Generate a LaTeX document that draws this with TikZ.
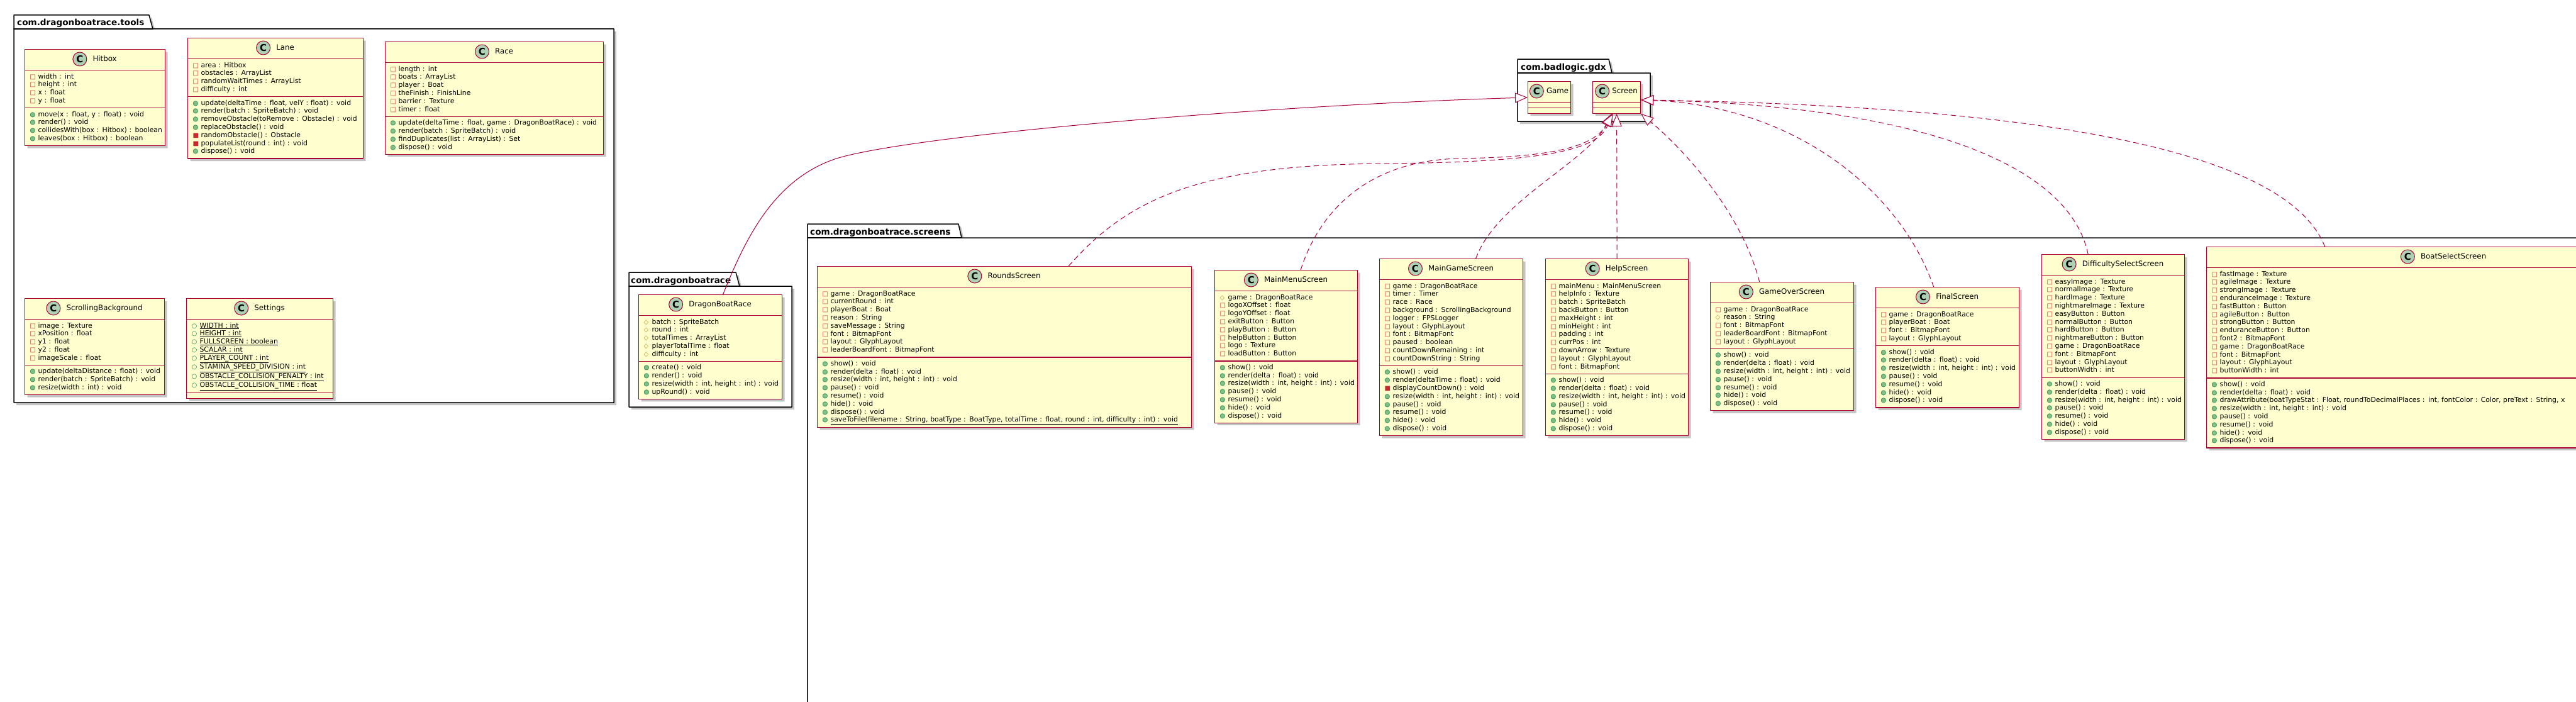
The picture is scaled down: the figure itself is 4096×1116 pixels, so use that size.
\documentclass[tikz,border=0pt]{standalone}
\usepackage{fontspec}
\setmainfont{DejaVu Sans}
\usetikzlibrary{arrows.meta}
\usetikzlibrary{positioning}
\usetikzlibrary{shadows}
\usetikzlibrary{shapes.multipart}
\usetikzlibrary{calc}

\definecolor{umlred}{HTML}{A80036}
\definecolor{umlfill}{HTML}{FEFECE}
\definecolor{iconbg}{HTML}{ADD1B2}
\definecolor{privred}{HTML}{C82930}
\definecolor{protgold}{HTML}{B38D22}
\definecolor{pubgreen}{HTML}{038048}
\definecolor{pubfill}{HTML}{84BE84}

\newcommand{\attrfont}{\fontsize{10.85}{12.8}\selectfont}
\newcommand{\namefont}{\fontsize{11.8}{14}\selectfont}
\newcommand{\pkgfont}{\bfseries\fontsize{13.6}{16}\selectfont}
\newcommand{\headspace}{\rule{0pt}{24.5pt}}

% visibility marks
\newcommand{\vis}[1]{\makebox[13pt][l]{\fontsize{10}{10}\selectfont #1}}
\newcommand{\fpriv}{\vis{\textcolor{privred}{□}}}
\newcommand{\mpriv}{\vis{\textcolor{privred}{■}}}
\newcommand{\fprot}{\vis{\textcolor{protgold}{◇}}}
\newcommand{\fpub}{\vis{\textcolor{pubgreen}{○}}}
\newcommand{\mpub}{\vis{\rlap{\textcolor{pubfill}{●}}\textcolor{pubgreen}{○}}}
\newcommand{\row}[2]{\mbox{\strut#1#2}}

\tikzset{
  umlclass/.style={rectangle split, rectangle split parts=3,
    rectangle split ignore empty parts=false,
    draw=umlred, line width=1.2pt, fill=umlfill,
    drop shadow={shadow xshift=4pt, shadow yshift=-4pt, fill=black!45},
    anchor=north west, inner xsep=8pt, inner ysep=3.75pt,
    align=left, font=\attrfont},
  clsname/.style={inner sep=0pt, font=\namefont, text height=8.6pt, text depth=2.5pt},
  clsicon/.style={circle, draw=umlred, line width=1pt, fill=iconbg,
    minimum size=22pt, inner sep=0pt, font=\bfseries\fontsize{15}{15}\selectfont},
  pkg/.style={draw=black, line width=1.5pt, fill=white,
    drop shadow={shadow xshift=4pt, shadow yshift=-4pt, fill=black!45}},
  pkgedge/.style={draw=black, line width=1.5pt},
  pkglabel/.style={inner sep=0pt, font=\pkgfont, anchor=base west},
  extends/.style={draw=umlred, line width=1pt,
    -{Triangle[length=20pt, width=16pt, fill=white]}},
  implements/.style={extends, dash pattern=on 8pt off 6pt}
}

\begin{document}
\begin{tikzpicture}[line cap=round,line join=round,x=1pt,y=-1pt]
\useasboundingbox (0,0) rectangle (4096,1116);
\clip (0,0) rectangle (4096,1116);
\fill[white] (0,0) rectangle (4096,1116);

% packages
\filldraw[pkg] (22,24) -- (237,24) -- (243,46) -- (976,46) -- (976,640) -- (22,640) -- cycle;
\draw[pkgedge] (22,46) -- (243,46);
\node[pkglabel] (toolsLabel) at (27,41) {com.dragonboatrace.tools};

\filldraw[pkg] (2413,94) -- (2558,94) -- (2563,116) -- (2624,116) -- (2624,193) -- (2413,193) -- cycle;
\draw[pkgedge] (2413,116) -- (2563,116);
\node[pkglabel] (gdxLabel) at (2418,111) {com.badlogic.gdx};

\filldraw[pkg] (1000,433) -- (1170,433) -- (1176,455) -- (1259,455) -- (1259,647) -- (1000,647) -- cycle;
\draw[pkgedge] (1000,455) -- (1176,455);
\node[pkglabel] (coreLabel) at (1003,450) {com.dragonboatrace};

\filldraw[pkg] (1284,356) -- (1524,356) -- (1529,378) -- (4200,378) -- (4200,1200) -- (1284,1200) -- cycle;
\draw[pkgedge] (1284,378) -- (1529,378);
\node[pkglabel] (screensLabel) at (1288,373) {com.dragonboatrace.screens};

% com.dragonboatrace.tools
\node[umlclass, text width=207pt] (hit) at (39,78) {\headspace
  \nodepart{two}
  \row\fpriv{width : int}\\
  \row\fpriv{height : int}\\
  \row\fpriv{x : float}\\
  \row\fpriv{y : float}
  \nodepart{three}
  \row\mpub{move(x : float, y : float) : void}\\
  \row\mpub{render() : void}\\
  \row\mpub{collidesWith(box : Hitbox) : boolean}\\
  \row\mpub{leaves(box : Hitbox) : boolean}};
\node[clsname] (hitName) at ($(hit.north)+(15.5,16)$) {Hitbox};
\node[clsicon, left=9pt of hitName] (hitIcon) {C};

\node[umlclass, text width=263pt] (lane) at (298,60) {\headspace
  \nodepart{two}
  \row\fpriv{area : Hitbox}\\
  \row\fpriv{obstacles : ArrayList}\\
  \row\fpriv{randomWaitTimes : ArrayList}\\
  \row\fpriv{difficulty : int}
  \nodepart{three}
  \row\mpub{update(deltaTime : float, velY : float) : void}\\
  \row\mpub{render(batch : SpriteBatch) : void}\\
  \row\mpub{removeObstacle(toRemove : Obstacle) : void}\\
  \row\mpub{replaceObstacle() : void}\\
  \row\mpriv{randomObstacle() : Obstacle}\\
  \row\mpriv{populateList(round : int) : void}\\
  \row\mpub{dispose() : void}};
\node[clsname] (laneName) at ($(lane.north)+(15.5,16)$) {Lane};
\node[clsicon, left=9pt of laneName] (laneIcon) {C};

\node[umlclass, text width=331pt] (race) at (612,66) {\headspace
  \nodepart{two}
  \row\fpriv{length : int}\\
  \row\fpriv{boats : ArrayList}\\
  \row\fpriv{player : Boat}\\
  \row\fpriv{theFinish : FinishLine}\\
  \row\fpriv{barrier : Texture}\\
  \row\fpriv{timer : float}
  \nodepart{three}
  \row\mpub{update(deltaTime : float, game : DragonBoatRace) : void}\\
  \row\mpub{render(batch : SpriteBatch) : void}\\
  \row\mpub{findDuplicates(list : ArrayList) : Set}\\
  \row\mpub{dispose() : void}};
\node[clsname] (raceName) at ($(race.north)+(15.5,16)$) {Race};
\node[clsicon, left=9pt of raceName] (raceIcon) {C};

\node[umlclass, text width=206pt] (scroll) at (39,474) {\headspace
  \nodepart{two}
  \row\fpriv{image : Texture}\\
  \row\fpriv{xPosition : float}\\
  \row\fpriv{y1 : float}\\
  \row\fpriv{y2 : float}\\
  \row\fpriv{imageScale : float}
  \nodepart{three}
  \row\mpub{update(deltaDistance : float) : void}\\
  \row\mpub{render(batch : SpriteBatch) : void}\\
  \row\mpub{resize(width : int) : void}};
\node[clsname] (scrollName) at ($(scroll.north)+(15.5,16)$) {ScrollingBackground};
\node[clsicon, left=9pt of scrollName] (scrollIcon) {C};

\node[umlclass, text width=217pt] (settings) at (296,474) {\headspace
  \nodepart{two}
  \row\fpub{\underline{WIDTH : int}}\\
  \row\fpub{\underline{HEIGHT : int}}\\
  \row\fpub{\underline{FULLSCREEN : boolean}}\\
  \row\fpub{\underline{SCALAR : int}}\\
  \row\fpub{\underline{PLAYER\_COUNT : int}}\\
  \row\fpub{\underline{STAMINA\_SPEED\_DIVISION : int}}\\
  \row\fpub{\underline{OBSTACLE\_COLLISION\_PENALTY : int}}\\
  \row\fpub{\underline{OBSTACLE\_COLLISION\_TIME : float}}
  \nodepart{three}};
\node[clsname] (settingsName) at ($(settings.north)+(15.5,16)$) {Settings};
\node[clsicon, left=9pt of settingsName] (settingsIcon) {C};

% com.dragonboatrace
\node[umlclass, text width=212pt] (dbr) at (1015,468) {\headspace
  \nodepart{two}
  \row\fprot{batch : SpriteBatch}\\
  \row\fprot{round : int}\\
  \row\fprot{totalTimes : ArrayList}\\
  \row\fprot{playerTotalTime : float}\\
  \row\fprot{difficulty : int}
  \nodepart{three}
  \row\mpub{create() : void}\\
  \row\mpub{render() : void}\\
  \row\mpub{resize(width : int, height : int) : void}\\
  \row\mpub{upRound() : void}};
\node[clsname] (dbrName) at ($(dbr.north)+(15.5,16)$) {DragonBoatRace};
\node[clsicon, left=9pt of dbrName] (dbrIcon) {C};

% com.badlogic.gdx
\node[umlclass, text width=52pt] (game) at (2429,129) {\headspace
  \nodepart{two}\nodepart{three}};
\node[clsname] (gameName) at ($(game.north)+(13,16)$) {Game};
\node[clsicon, left=4pt of gameName] (gameIcon) {C};

\node[umlclass, text width=60pt] (screen) at (2532,129) {\headspace
  \nodepart{two}\nodepart{three}};
\node[clsname] (screenName) at ($(screen.north)+(13,16)$) {Screen};
\node[clsicon, left=4pt of screenName] (screenIcon) {C};

% com.dragonboatrace.screens
\node[umlclass, text width=579pt] (rounds) at (1299,423) {\headspace
  \nodepart{two}
  \row\fpriv{game : DragonBoatRace}\\
  \row\fpriv{currentRound : int}\\
  \row\fpriv{playerBoat : Boat}\\
  \row\fpriv{reason : String}\\
  \row\fpriv{saveMessage : String}\\
  \row\fpriv{font : BitmapFont}\\
  \row\fpriv{layout : GlyphLayout}\\
  \row\fpriv{leaderBoardFont : BitmapFont}
  \nodepart{three}
  \row\mpub{show() : void}\\
  \row\mpub{render(delta : float) : void}\\
  \row\mpub{resize(width : int, height : int) : void}\\
  \row\mpub{pause() : void}\\
  \row\mpub{resume() : void}\\
  \row\mpub{hide() : void}\\
  \row\mpub{dispose() : void}\\
  \row\mpub{\underline{saveToFile(filename : String, boatType : BoatType, totalTime : float, round : int, difficulty : int) : void}}};
\node[clsname] (roundsName) at ($(rounds.north)+(15.5,16)$) {RoundsScreen};
\node[clsicon, left=9pt of roundsName] (roundsIcon) {C};

\node[umlclass, text width=211pt] (mainmenu) at (1931,429) {\headspace
  \nodepart{two}
  \row\fprot{game : DragonBoatRace}\\
  \row\fpriv{logoXOffset : float}\\
  \row\fpriv{logoYOffset : float}\\
  \row\fpriv{exitButton : Button}\\
  \row\fpriv{playButton : Button}\\
  \row\fpriv{helpButton : Button}\\
  \row\fpriv{logo : Texture}\\
  \row\fpriv{loadButton : Button}
  \nodepart{three}
  \row\mpub{show() : void}\\
  \row\mpub{render(delta : float) : void}\\
  \row\mpub{resize(width : int, height : int) : void}\\
  \row\mpub{pause() : void}\\
  \row\mpub{resume() : void}\\
  \row\mpub{hide() : void}\\
  \row\mpub{dispose() : void}};
\node[clsname] (mainmenuName) at ($(mainmenu.north)+(15.5,16)$) {MainMenuScreen};
\node[clsicon, left=9pt of mainmenuName] (mainmenuIcon) {C};

\node[umlclass, text width=212pt] (maingame) at (2193,411) {\headspace
  \nodepart{two}
  \row\fpriv{game : DragonBoatRace}\\
  \row\fpriv{timer : Timer}\\
  \row\fpriv{race : Race}\\
  \row\fpriv{background : ScrollingBackground}\\
  \row\fpriv{logger : FPSLogger}\\
  \row\fpriv{layout : GlyphLayout}\\
  \row\fpriv{font : BitmapFont}\\
  \row\fpriv{paused : boolean}\\
  \row\fpriv{countDownRemaining : int}\\
  \row\fpriv{countDownString : String}
  \nodepart{three}
  \row\mpub{show() : void}\\
  \row\mpub{render(deltaTime : float) : void}\\
  \row\mpriv{displayCountDown() : void}\\
  \row\mpub{resize(width : int, height : int) : void}\\
  \row\mpub{pause() : void}\\
  \row\mpub{resume() : void}\\
  \row\mpub{hide() : void}\\
  \row\mpub{dispose() : void}};
\node[clsname] (maingameName) at ($(maingame.north)+(15.5,16)$) {MainGameScreen};
\node[clsicon, left=9pt of maingameName] (maingameIcon) {C};

\node[umlclass, text width=211pt] (help) at (2457,411) {\headspace
  \nodepart{two}
  \row\fpriv{mainMenu : MainMenuScreen}\\
  \row\fpriv{helpInfo : Texture}\\
  \row\fpriv{batch : SpriteBatch}\\
  \row\fpriv{backButton : Button}\\
  \row\fpriv{maxHeight : int}\\
  \row\fpriv{minHeight : int}\\
  \row\fpriv{padding : int}\\
  \row\fpriv{currPos : int}\\
  \row\fpriv{downArrow : Texture}\\
  \row\fpriv{layout : GlyphLayout}\\
  \row\fpriv{font : BitmapFont}
  \nodepart{three}
  \row\mpub{show() : void}\\
  \row\mpub{render(delta : float) : void}\\
  \row\mpub{resize(width : int, height : int) : void}\\
  \row\mpub{pause() : void}\\
  \row\mpub{resume() : void}\\
  \row\mpub{hide() : void}\\
  \row\mpub{dispose() : void}};
\node[clsname] (helpName) at ($(help.north)+(15.5,16)$) {HelpScreen};
\node[clsicon, left=9pt of helpName] (helpIcon) {C};

\node[umlclass, text width=212pt] (gameover) at (2719,448) {\headspace
  \nodepart{two}
  \row\fpriv{game : DragonBoatRace}\\
  \row\fprot{reason : String}\\
  \row\fpriv{font : BitmapFont}\\
  \row\fpriv{leaderBoardFont : BitmapFont}\\
  \row\fpriv{layout : GlyphLayout}
  \nodepart{three}
  \row\mpub{show() : void}\\
  \row\mpub{render(delta : float) : void}\\
  \row\mpub{resize(width : int, height : int) : void}\\
  \row\mpub{pause() : void}\\
  \row\mpub{resume() : void}\\
  \row\mpub{hide() : void}\\
  \row\mpub{dispose() : void}};
\node[clsname] (gameoverName) at ($(gameover.north)+(15.5,16)$) {GameOverScreen};
\node[clsicon, left=9pt of gameoverName] (gameoverIcon) {C};

\node[umlclass, text width=212pt] (final) at (2982,456) {\headspace
  \nodepart{two}
  \row\fpriv{game : DragonBoatRace}\\
  \row\fpriv{playerBoat : Boat}\\
  \row\fpriv{font : BitmapFont}\\
  \row\fpriv{layout : GlyphLayout}
  \nodepart{three}
  \row\mpub{show() : void}\\
  \row\mpub{render(delta : float) : void}\\
  \row\mpub{resize(width : int, height : int) : void}\\
  \row\mpub{pause() : void}\\
  \row\mpub{resume() : void}\\
  \row\mpub{hide() : void}\\
  \row\mpub{dispose() : void}};
\node[clsname] (finalName) at ($(final.north)+(15.5,16)$) {FinalScreen};
\node[clsicon, left=9pt of finalName] (finalIcon) {C};

\node[umlclass, text width=211pt] (diffsel) at (3246,404) {\headspace
  \nodepart{two}
  \row\fpriv{easyImage : Texture}\\
  \row\fpriv{normalImage : Texture}\\
  \row\fpriv{hardImage : Texture}\\
  \row\fpriv{nightmareImage : Texture}\\
  \row\fpriv{easyButton : Button}\\
  \row\fpriv{normalButton : Button}\\
  \row\fpriv{hardButton : Button}\\
  \row\fpriv{nightmareButton : Button}\\
  \row\fpriv{game : DragonBoatRace}\\
  \row\fpriv{font : BitmapFont}\\
  \row\fpriv{layout : GlyphLayout}\\
  \row\fpriv{buttonWidth : int}
  \nodepart{three}
  \row\mpub{show() : void}\\
  \row\mpub{render(delta : float) : void}\\
  \row\mpub{resize(width : int, height : int) : void}\\
  \row\mpub{pause() : void}\\
  \row\mpub{resume() : void}\\
  \row\mpub{hide() : void}\\
  \row\mpub{dispose() : void}};
\node[clsname] (diffselName) at ($(diffsel.north)+(15.5,16)$) {DifficultySelectScreen};
\node[clsicon, left=9pt of diffselName] (diffselIcon) {C};

\node[umlclass, text width=738pt] (boatsel) at (3508,392) {\headspace
  \nodepart{two}
  \row\fpriv{fastImage : Texture}\\
  \row\fpriv{agileImage : Texture}\\
  \row\fpriv{strongImage : Texture}\\
  \row\fpriv{enduranceImage : Texture}\\
  \row\fpriv{fastButton : Button}\\
  \row\fpriv{agileButton : Button}\\
  \row\fpriv{strongButton : Button}\\
  \row\fpriv{enduranceButton : Button}\\
  \row\fpriv{font2 : BitmapFont}\\
  \row\fpriv{game : DragonBoatRace}\\
  \row\fpriv{font : BitmapFont}\\
  \row\fpriv{layout : GlyphLayout}\\
  \row\fpriv{buttonWidth : int}
  \nodepart{three}
  \row\mpub{show() : void}\\
  \row\mpub{render(delta : float) : void}\\
  \row\mpub{drawAttribute(boatTypeStat : Float, roundToDecimalPlaces : int, fontColor : Color, preText : String, x}\\
  \row\mpub{resize(width : int, height : int) : void}\\
  \row\mpub{pause() : void}\\
  \row\mpub{resume() : void}\\
  \row\mpub{hide() : void}\\
  \row\mpub{dispose() : void}};
\node[clsname] (boatselName) at ($(boatsel.north)+(15.5,16)$) {BoatSelectScreen};
\node[clsicon, left=9pt of boatselName] (boatselIcon) {C};

% inheritance
\draw[extends] ($(dbr.north)+(20,0)$) .. controls (1185,380) and (1230,285) .. (1330,252)
  .. controls (1450,215) and (2000,168) .. (game.west);

% Screen implementations
\draw[implements] ($(rounds.north)+(102,0)$) .. controls (1790,320) and (1900,262) .. (2200,260)
  .. controls (2450,258) and (2540,240) .. ($(screen.south)+(-7,0)$);
\draw[implements] ($(mainmenu.north)+(23,0)$) .. controls (2100,330) and (2180,255) .. (2320,252)
  .. controls (2460,250) and (2535,235) .. ($(screen.south)+(-8,0)$);
\draw[implements] ($(maingame.north)+(39,0)$) .. controls (2380,320) and (2520,260) .. ($(screen.south)+(-6,0)$);
\draw[implements] (help.north) -- (screen.south);
\draw[implements] ($(gameover.north)+(-36,0)$) .. controls (2770,340) and (2680,240) .. (screen.south east);
\draw[implements] ($(final.north)+(-22,0)$) .. controls (3020,300) and (2850,168) .. ($(screen.east)+(0,4)$);
\draw[implements] ($(diffsel.north)+(-40,0)$) .. controls (3290,260) and (3050,168) .. ($(screen.east)+(0,4)$);
\draw[implements] ($(boatsel.north)+(-189,0)$) .. controls (3640,250) and (3300,170) .. ($(screen.east)+(0,4)$);
\end{tikzpicture}
\end{document}
